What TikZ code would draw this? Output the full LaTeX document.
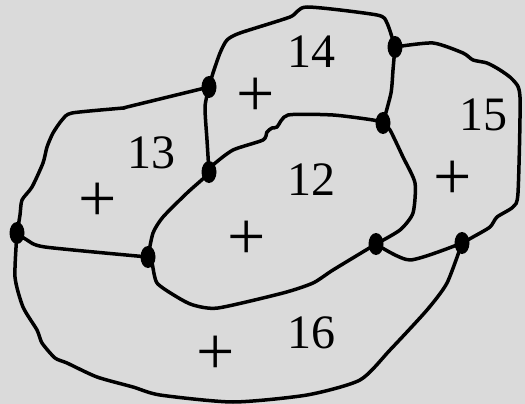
\documentclass[tikz,border=0pt]{standalone}
\usepackage{fontspec}
\setmainfont{Liberation Serif}
\usetikzlibrary{shapes.geometric}
\definecolor{paper}{RGB}{218,218,218}

\begin{document}
\begin{tikzpicture}[x=1pt, y=-1pt,
    vtx/.style={ellipse, fill=black, inner sep=0pt, minimum width=15pt, minimum height=22pt},
    rim/.style={line width=3.5pt, line join=round, line cap=round},
    lbl/.style={font=\fontsize{48}{50}\selectfont, inner sep=0pt},
    pls/.style={font=\fontsize{68}{70}\selectfont, inner sep=0pt}
  ]
  \fill[paper] (0,0) rectangle (525,404);

  % vertices
  \node[vtx] (A) at (17,233) {};
  \node[vtx] (B) at (148,257) {};
  \node[vtx] (C) at (209,172) {};
  \node[vtx] (D) at (209,87) {};
  \node[vtx] (E) at (395,47) {};
  \node[vtx] (F) at (383,123) {};
  \node[vtx] (G) at (376,244) {};
  \node[vtx] (H) at (462,243) {};

  % boundaries
  \draw[rim] plot[smooth, tension=0.4] coordinates {(A.center) (20,215) (22,200) (32,187) (43,163) (47,147) (53,133) (62,120) (72,113) (123,108) (127,107) (D.center)};
  \draw[rim] plot[smooth, tension=0.4] coordinates {(A.center) (27,240) (45,247) (B.center)};
  \draw[rim] plot[smooth, tension=0.4] coordinates {(D.center) (205,107) (207,140) (C.center)};
  \draw[rim] plot[smooth, tension=0.4] coordinates {(D.center) (213,73) (220,53) (227,40) (240,33) (290,17) (307,7) (377,15) (387,23) (E.center)};
  \draw[rim] plot[smooth, tension=0.4] coordinates {(E.center) (393,70) (391,93) (F.center)};
  \draw[rim] plot[smooth, tension=0.4] coordinates {(C.center) (213,165) (233,150) (263,140) (267,132) (272,128) (277,127) (288,115) (333,115) (373,120) (F.center)};
  \draw[rim] plot[smooth, tension=0.4] coordinates {(C.center) (205,177) (187,193) (163,217) (153,233) (B.center)};
  \draw[rim] plot[smooth, tension=0.4] coordinates {(B.center) (152,263) (157,283) (177,297) (193,305) (218,308) (283,293) (313,283) (333,270) (G.center)};
  \draw[rim] plot[smooth, tension=0.4] coordinates {(F.center) (390,130) (403,157) (415,183) (413,213) (400,230) (G.center)};
  \draw[rim] plot[smooth, tension=0.4] coordinates {(G.center) (410,260) (H.center)};
  \draw[rim] plot[smooth, tension=0.4] coordinates {(E.center) (433,43) (463,53) (473,60) (487,63) (500,70) (513,80) (520,97) (518,193) (513,207) (497,217) (490,227) (473,237) (H.center)};
  \draw[rim] plot[smooth, tension=0.4] coordinates {(A.center) (15,277) (23,307) (37,330) (42,343) (55,358) (67,363) (97,377) (133,387) (160,395) (233,402) (307,395) (360,380) (390,350) (427,310) (447,283) (H.center)};

  % region labels
  \node[lbl] (n12) at (311,180) {12};
  \node[lbl] (n13) at (151,153) {13};
  \node[lbl] (n14) at (311,52) {14};
  \node[lbl] (n15) at (483,115) {15};
  \node[lbl] (n16) at (311,333) {16};
  \node[pls] (p12) at (247,240) {+};
  \node[pls] (p13) at (98,202) {+};
  \node[pls] (p14) at (256,97) {+};
  \node[pls] (p15) at (453,180) {+};
  \node[pls] (p16) at (216,355) {+};
\end{tikzpicture}
\end{document}
